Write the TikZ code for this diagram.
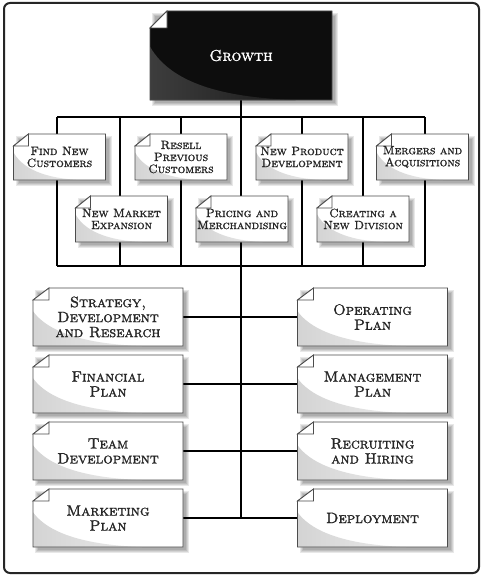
\documentclass[tikz,border=0pt]{standalone}
\usepackage{fontspec}
\newfontfamily\heavysc{lmromancaps10-regular.otf}[FakeBold=1.6]
\pgfdeclarelayer{back}
\pgfdeclarelayer{bg}
\pgfsetlayers{back,bg,main}
\tikzset{
  conn/.style={line width=1.7pt, black},
  outerframe/.style={line width=2pt, rounded corners=6pt, draw=black!85},
  boxline/.style={draw=black!70, line width=0.8pt},
  smalltext/.style={font=\heavysc\fontsize{12}{12}\selectfont, text=black!85},
  bigtext/.style={font=\heavysc\fontsize{15}{15}\selectfont, text=black!85},
  growthtext/.style={font=\heavysc\fontsize{15.5}{16}\selectfont, text=white},
}
% #1 name, #2 cx, #3 cy, #4 half width, #5 half height, #6 text
\newcommand\notebox[6]{%
\begin{scope}[shift={(#2,#3)}]
 \foreach \k in {0,1,2,3}{\fill[black,opacity=0.09] ({-#4+2+\k},{-#5+2+\k}) rectangle ({#4+6-\k},{#5+6-\k});}
 \fill[\bodycol] ({-#4+\fx},{-#5}) -- ({#4},{-#5}) -- ({#4},{#5}) -- ({-#4},{#5}) -- ({-#4},{-#5+\fy}) -- cycle;
 \begin{scope}
  \clip ({-#4+\fx},{-#5}) -- ({#4},{-#5}) -- ({#4},{#5}) -- ({-#4},{#5}) -- ({-#4},{-#5+\fy}) -- cycle;
  \shade[left color=\shadeA, right color=\shadeB] ({-#4},{-0.2*#5}) .. controls ({-0.75*#4},{0.7*#5}) and ({-0.1*#4},{0.95*#5}) .. ({\shadeend*#4},{#5}) -- ({-#4},{#5}) -- cycle;
 \end{scope}
 \draw[boxline] ({-#4+\fx},{-#5}) -- ({#4},{-#5}) -- ({#4},{#5}) -- ({-#4},{#5}) -- ({-#4},{-#5+\fy}) -- cycle;
 \filldraw[boxline, fill=white] ({-#4},{-#5+\fy}) -- ({-#4+\fx},{-#5}) -- ({-#4+\fx},{-#5+\fy}) -- cycle;
 \node[minimum width={2*#4}, minimum height={2*#5}, inner sep=0pt, align=center, \txtstyle] (#1) at (0,0) {#6};
\end{scope}}
\begin{document}
\begin{tikzpicture}[x=1pt,y=-1pt]
\useasboundingbox (0,0) rectangle (485,578);
\begin{pgfonlayer}{back}
\fill[white] (0,0) rectangle (485,578);
\end{pgfonlayer}
\draw[outerframe] (4,3) rectangle (479,573);

% Growth
\def\bodycol{black!95}\def\shadeA{black!76}\def\shadeB{black!90}\def\shadeend{0.6}
\def\fx{17}\def\fy{17}\def\txtstyle{growthtext}
\notebox{growth}{241}{55.5}{91}{44.5}{Growth}

% top rows
\def\bodycol{white}\def\shadeA{black!17}\def\shadeB{black!8}\def\shadeend{0.45}
\def\fx{15}\def\fy{12}\def\txtstyle{smalltext}
\notebox{fnc}{59.5}{157}{46}{23}{Find New\\Customers}
\notebox{rpc}{181}{157}{46}{23}{Resell\\Previous\\Customers}
\notebox{npd}{302}{157}{46}{23}{New Product\\Development}
\notebox{maa}{422.5}{157}{46}{23}{Mergers and\\Acquisitions}
\notebox{nme}{121.5}{219}{46}{23}{New Market\\Expansion}
\notebox{pam}{242}{219}{46}{23}{Pricing and\\Merchandising}
\notebox{cnd}{363}{219}{46}{23}{Creating a\\New Division}

% bottom rows
\def\fx{16}\def\fy{12}\def\txtstyle{bigtext}
\notebox{sdr}{108}{317}{75}{29}{Strategy,\\Development\\and Research}
\notebox{fin}{108}{384}{75}{29}{Financial\\Plan}
\notebox{tdv}{108}{451}{75}{29}{Team\\Development}
\notebox{mkt}{108}{518}{75}{29}{Marketing\\Plan}
\notebox{opp}{372.5}{317}{75}{29}{Operating\\Plan}
\notebox{mgp}{372.5}{384}{75}{29}{Management\\Plan}
\notebox{rah}{372.5}{451}{75}{29}{Recruiting\\and Hiring}
\notebox{dep}{372.5}{518}{75}{29}{Deployment}

\begin{pgfonlayer}{bg}
 \foreach \i/\x in {1/57,2/120,3/181,4/241,5/302,6/363,7/425}{
   \coordinate (t\i) at (\x,117);
   \coordinate (b\i) at (\x,266);
 }
 \draw[conn] (t1) -- (t7);
 \draw[conn] (b1) -- (b7);
 \foreach \i in {1,2,3,5,6,7}{\draw[conn] (t\i) -- (b\i);}
 \draw[conn] (growth.south) -- (growth.south |- mkt.east);
 \draw[conn] (sdr.east) -- (opp.west);
 \draw[conn] (fin.east) -- (mgp.west);
 \draw[conn] (tdv.east) -- (rah.west);
 \draw[conn] (mkt.east) -- (dep.west);
\end{pgfonlayer}
\end{tikzpicture}
\end{document}
